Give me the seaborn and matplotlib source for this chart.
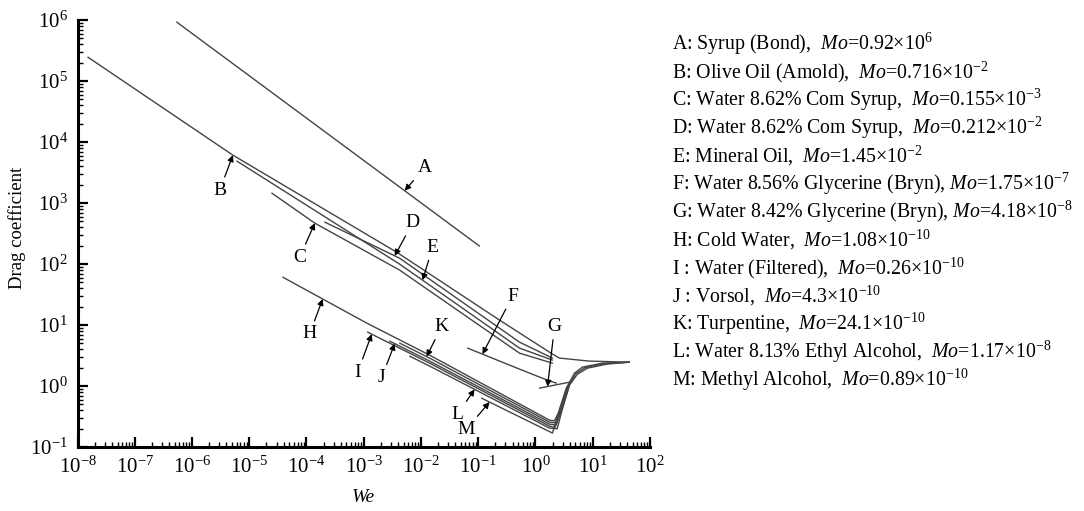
import numpy as np
import pandas as pd
import matplotlib
matplotlib.use("Agg")
import matplotlib.pyplot as plt
import seaborn as sns
from matplotlib.ticker import LogLocator, LogFormatterMathtext, NullFormatter

# ---------------- data ----------------
A_we = [5.4e-7, 0.106]
A_cd = [9.3e5, 197]
B_we = [1.52e-8, 5.18e-6, 3.77e-3, 0.236, 1.99, 2.64, 8.79, 43.9]
B_cd = [2.47e5, 6120, 157, 12.1, 3.35, 2.88, 2.57, 2.47]
C_we = [2.48e-5, 1.40e-4, 4.25e-3, 0.528, 1.99]
C_cd = [1459, 470, 79.8, 3.47, 2.38]
D_we = [2.08e-4, 4.25e-3, 0.528, 1.99]
D_cd = [489, 125, 5.26, 2.88]
E_we = [6.08e-6, 4.25e-3, 0.528, 1.99]
E_cd = [4890, 100, 4.20, 2.67]
F_we = [0.0653, 0.528, 1.63, 2.33]
F_cd = [4.20, 1.90, 1.25, 1.12]
G_we = [1.18, 3.94]
G_cd = [0.927, 1.16]
H_we = [3.85e-5, 1.13e-3, 0.0142, 1.76, 2.15, 2.85, 3.63, 4.81, 6.64, 14.8, 43.9]
H_cd = [61.2, 10.8, 3.22, 0.277, 0.27, 0.453, 1.0, 1.63, 2.05, 2.38, 2.47]
I_we = [1.17e-3, 0.0142, 1.76, 2.2, 3.09, 3.94, 5.43, 8.11, 18.1, 43.9]
I_cd = [7.68, 2.38, 0.221, 0.21, 0.489, 1.04, 1.57, 1.97, 2.30, 2.47]
J_we = [2.84e-3, 0.0142, 1.76, 2.3, 2.85, 3.63]
J_cd = [5.47, 2.57, 0.238, 0.23, 0.453, 1.0]
K_we = [4.25e-3, 0.0142, 1.76, 2.3, 2.95, 3.8, 5.1, 7.3, 16.0, 43.9]
K_cd = [5.07, 2.88, 0.257, 0.25, 0.47, 1.02, 1.6, 2.0, 2.34, 2.47]
L_we = [6.35e-3, 0.0142, 1.76, 2.4, 3.09, 3.94]
L_cd = [3.10, 2.13, 0.205, 0.2, 0.489, 1.04]
M_we = [0.1146, 1.99, 2.7, 3.5]
M_cd = [0.635, 0.170, 0.45, 0.95]

curve_keys = list("ABCDEFGHIJKLM")
curve_data = {
    "A": (A_we, A_cd), "B": (B_we, B_cd), "C": (C_we, C_cd), "D": (D_we, D_cd),
    "E": (E_we, E_cd), "F": (F_we, F_cd), "G": (G_we, G_cd), "H": (H_we, H_cd),
    "I": (I_we, I_cd), "J": (J_we, J_cd), "K": (K_we, K_cd), "L": (L_we, L_cd),
    "M": (M_we, M_cd),
}

legend_lines = [
    r"A: Syrup (Bond),  $\mathit{Mo}$=0.92×$\mathrm{10}^{6}$",
    r"B: Olive Oil (Amold),  $\mathit{Mo}$=0.716×$\mathrm{10}^{-2}$",
    r"C: Water 8.62% Com Syrup,  $\mathit{Mo}$=0.155×$\mathrm{10}^{-3}$",
    r"D: Water 8.62% Com Syrup,  $\mathit{Mo}$=0.212×$\mathrm{10}^{-2}$",
    r"E: Mineral Oil,  $\mathit{Mo}$=1.45×$\mathrm{10}^{-2}$",
    r"F: Water 8.56% Glycerine (Bryn), $\mathit{Mo}$=1.75×$\mathrm{10}^{-7}$",
    r"G: Water 8.42% Glycerine (Bryn), $\mathit{Mo}$=4.18×$\mathrm{10}^{-8}$",
    r"H: Cold Water,  $\mathit{Mo}$=1.08×$\mathrm{10}^{-10}$",
    r"I : Water (Filtered),  $\mathit{Mo}$=0.26×$\mathrm{10}^{-10}$",
    r"J : Vorsol,  $\mathit{Mo}$=4.3×$\mathrm{10}^{-10}$",
    r"K: Turpentine,  $\mathit{Mo}$=24.1×$\mathrm{10}^{-10}$",
    r"L: Water 8.13% Ethyl Alcohol,  $\mathit{Mo}$=1.17×$\mathrm{10}^{-8}$",
    r"M: Methyl Alcohol,  $\mathit{Mo}$=0.89×$\mathrm{10}^{-10}$",
]

# arrow labels: (label, tip We on that curve, text offset in pixels dx, dy)
arrow_labels = [
    ("A", 5.2e-3, 20, 23), ("B", 5.18e-6, -13, -35), ("C", 1.40e-4, -15, -34),
    ("D", 3.48e-3, 18, 33), ("E", 0.0107, 10, 33), ("F", 0.119, 30, 58),
    ("G", 1.63, 7, 60), ("H", 1.92e-4, -13, -35), ("I", 1.38e-3, -14, -38),
    ("J", 3.48e-3, -13, -34), ("K", 0.01256, 15, 30), ("L", 0.0865, -17, -25),
    ("M", 0.158, -23, -27),
]

# ---------------- style ----------------
sns.set_theme(style="ticks")
plt.rcParams.update({
    "font.family": ["Liberation Serif", "DejaVu Serif"],
    "mathtext.fontset": "custom",
    "mathtext.rm": "Liberation Serif",
    "mathtext.it": "Liberation Serif:italic",
    "mathtext.bf": "Liberation Serif:bold",
    "axes.unicode_minus": False,
    "text.color": "black",
    "axes.labelcolor": "black",
    "xtick.color": "black",
    "ytick.color": "black",
})

rows = []
for k in curve_keys:
    we, cd = curve_data[k]
    for i, (w, c) in enumerate(zip(we, cd)):
        rows.append({"curve": k, "order": i, "We": w, "Cd": c})
df = pd.DataFrame(rows)

fig = plt.figure(figsize=(10.84, 5.11), dpi=100)
ax = fig.add_axes([0.0715, 0.125, 0.528, 0.8356])

sns.lineplot(data=df, x="We", y="Cd", units="curve", estimator=None, sort=False,
             color="#444444", linewidth=1.0, ax=ax, legend=False)

ax.set_xscale("log")
ax.set_yscale("log")
ax.set_xlim(1e-8, 1e2)
ax.set_ylim(1e-1, 1e6)

for axis in (ax.xaxis, ax.yaxis):
    axis.set_major_locator(LogLocator(base=10, numticks=30))
    axis.set_minor_locator(LogLocator(base=10, subs=np.arange(2, 10), numticks=300))
    axis.set_major_formatter(LogFormatterMathtext())
    axis.set_minor_formatter(NullFormatter())

ax.tick_params(which="major", direction="in", length=7, width=1.6, labelsize=15, pad=7)
ax.tick_params(which="minor", direction="in", length=3.5, width=1.0)
for s in ("top", "right"):
    ax.spines[s].set_visible(False)
for s in ("left", "bottom"):
    ax.spines[s].set_linewidth(2.2)
    ax.spines[s].set_color("black")

ax.set_xlabel("We", fontsize=14, style="italic")
ax.set_ylabel("Drag coefficient", fontsize=13.5)
ax.xaxis.label.set_va("center")
ax.xaxis.set_label_coords(0.5, -0.117)
ax.yaxis.label.set_va("center")
ax.yaxis.set_label_coords(-0.106, 0.513)

for lab, tip_we, dx, dy in arrow_labels:
    we, cd = curve_data[lab]
    tip_cd = 10 ** np.interp(np.log10(tip_we), np.log10(we), np.log10(cd))
    ax.annotate(lab, xy=(tip_we, tip_cd), xytext=(dx, dy), textcoords="offset pixels",
                ha="center", va="center", fontsize=14,
                arrowprops=dict(arrowstyle="-|>", color="black", lw=0.9,
                                shrinkA=1, shrinkB=0, mutation_scale=9))

for i, s in enumerate(legend_lines):
    fig.text(672 / 1084, 1 - (44 + 28.0 * i) / 511, s, fontsize=14.3, ha="left", va="center")

fig.savefig("out.png", dpi=100, facecolor="white")
